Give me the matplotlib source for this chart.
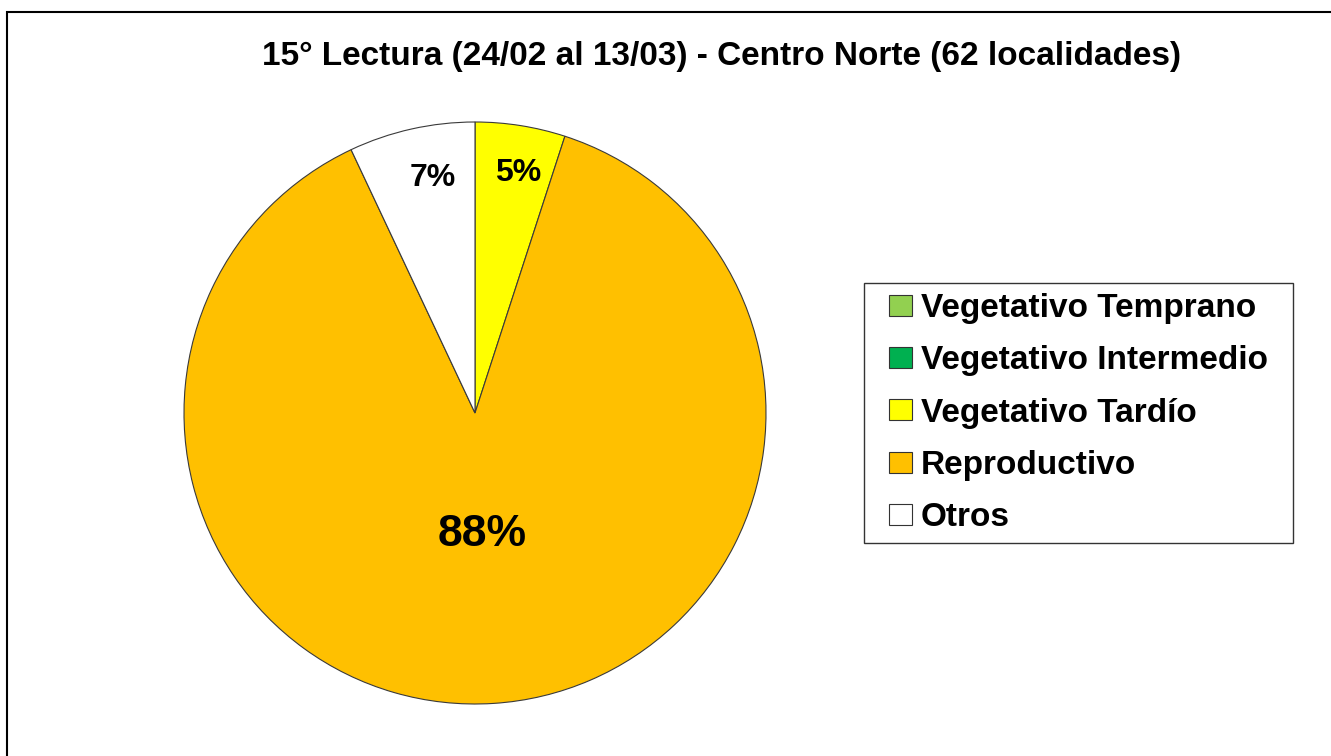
import matplotlib.pyplot as plt
import numpy as np
from matplotlib.patches import Rectangle, Patch
from matplotlib.legend_handler import HandlerPatch

categorias = ['Vegetativo Temprano', 'Vegetativo Intermedio', 'Vegetativo Tardío',
              'Reproductivo', 'Otros']
porcentajes = [0, 0, 5, 88, 7]
colores = ['#92D050', '#00B050', '#FFFF00', '#FFC000', '#FFFFFF']
titulo = '15° Lectura (24/02 al 13/03) - Centro Norte (62 localidades)'

plt.rcParams['font.family'] = ['Liberation Sans', 'DejaVu Sans']

W, H = 1331, 756
fig = plt.figure(figsize=(W / 100, H / 100), dpi=100)

# outer chart frame
fig.patches.append(Rectangle((7 / W, -0.01), 1.02, 1 - 12 / H + 0.01, transform=fig.transFigure,
                             fill=False, edgecolor='black', linewidth=1.5))

cx, cy, r = 475, 413, 291
ax = fig.add_axes([(cx - r) / W, (H - cy - r) / H, 2 * r / W, 2 * r / H])
wedges, _ = ax.pie(porcentajes, colors=colores, startangle=90, counterclock=False,
                   wedgeprops=dict(edgecolor='#3a3a3a', linewidth=0.8))
ax.set_xlim(-1, 1)
ax.set_ylim(-1, 1)
ax.set_aspect('equal')

# percentage labels: radial distance, font size, pixel nudge
dist = {2: 0.83, 3: 0.42, 4: 0.81}
sizes = {2: 23, 3: 32, 4: 23}
nudge = {2: (5, 1), 3: (-1, 0), 4: (9, 5)}
for i, w in enumerate(wedges):
    if porcentajes[i] == 0:
        continue
    ang = np.deg2rad((w.theta1 + w.theta2) / 2)
    d = dist[i]
    ax.annotate(f'{porcentajes[i]}%', (d * np.cos(ang), d * np.sin(ang)), xytext=nudge[i],
                textcoords='offset pixels', ha='center', va='center',
                fontsize=sizes[i], fontweight='bold')

fig.text(722 / W, 1 - 56 / H, titulo, ha='center', va='center', fontsize=24, fontweight='bold')


def small_square(legend, orig_handle, xdescent, ydescent, width, height, fontsize):
    s = 17
    return Rectangle((-xdescent + width - s, -ydescent + (height - 15) / 2), s, 15)


handles = [Patch(facecolor=c, edgecolor='#333333', linewidth=0.8) for c in colores]
leg = fig.legend(handles, categorias, loc='upper left',
                 bbox_to_anchor=(864 / W, 1 - 283 / H - 0.01, 429 / W, 0.01), mode='expand',
                 bbox_transform=fig.transFigure, frameon=True, fancybox=False,
                 prop=dict(size=24, weight='bold'), handlelength=1.15, handleheight=0.5,
                 handletextpad=0.25, labelspacing=0.64, borderpad=0.3, borderaxespad=0,
                 handler_map={Patch: HandlerPatch(patch_func=small_square)})
leg.get_frame().set_edgecolor('black')
leg.get_frame().set_linewidth(1.0)

fig.savefig('out.png', dpi=100, facecolor='white')
